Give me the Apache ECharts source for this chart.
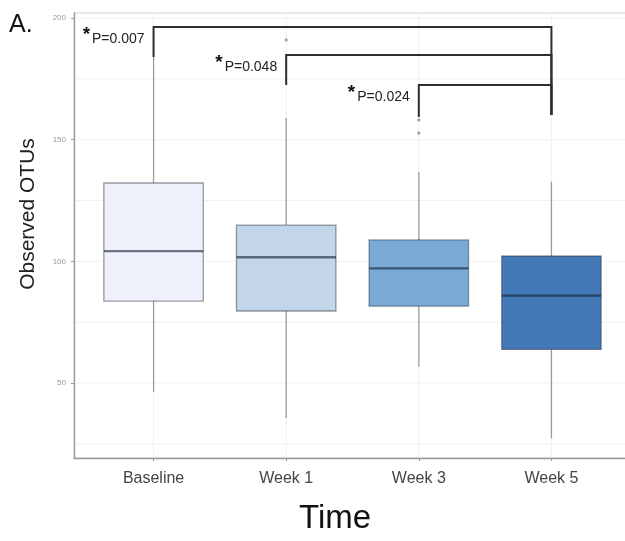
<!DOCTYPE html>
<html>
<head>
<meta charset="utf-8">
<title>Observed OTUs over time</title>
<script src="https://cdn.jsdelivr.net/npm/echarts@6/dist/echarts.min.js"></script>
<style>
  html, body { margin: 0; padding: 0; background: #ffffff; }
  #chart { width: 625px; height: 541px; }
</style>
</head>
<body>
<div id="chart"></div>
<script>
// Time points and box-plot statistics of observed OTUs
const categories = ['Baseline', 'Week 1', 'Week 3', 'Week 5'];
const lowerWhisker = [46.3, 35.6, 56.7, 27.3];
const q1 = [83.7, 79.6, 81.6, 63.8];
const medians = [104.2, 101.7, 97.1, 85.9];
const q3 = [132.2, 114.9, 108.8, 102.2];
const upperWhisker = [184, 158.9, 136.7, 132.7];
// outlying samples: [time point index, OTUs]
const outliers = [[1, 191], [2, 158.1], [2, 152.7]];

// axis ticks
const yTicks = [50, 100, 150, 200];
const yMinorGrid = [25, 75, 125, 175];

// pairwise comparisons against Week 5
const bracketFrom = [0, 1, 2];
const bracketTo = [3, 3, 3];
const bracketTop = [196.3, 184.8, 172.5];
const bracketFromEnd = [184, 172.5, 159.3];
const bracketToEnd = [160.1, 160.1, 160.1];
const pLabels = ['P=0.007', 'P=0.048', 'P=0.024'];

const boxColors = ['#eef0fb', '#c3d5e8', '#79aad5', '#4479b7'];
const FONT = '"Liberation Sans", Arial, Helvetica, sans-serif';

const chart = echarts.init(document.getElementById('chart'), null, { renderer: 'canvas' });

const boxData = categories.map((c, i) => [i, lowerWhisker[i], q1[i], medians[i], q3[i], upperWhisker[i]]);
const bracketData = bracketFrom.map((f, i) => [f, bracketTo[i], bracketTop[i], bracketFromEnd[i], bracketToEnd[i]]);

const option = {
  backgroundColor: '#ffffff',
  animation: false,
  grid: {
    left: 74, top: 13, width: 557, bottom: 83,
    outerBoundsMode: 'none', containLabel: false,
    show: true, borderColor: '#d0d0d0', borderWidth: 1, backgroundColor: 'transparent'
  },
  xAxis: {
    type: 'value', min: -0.6, max: 3.6,
    axisLine: { show: true, onZero: false, lineStyle: { color: '#9a9a9a', width: 1.3 } },
    axisTick: { show: true, length: 3, customValues: [0, 1, 2, 3], lineStyle: { color: '#9a9a9a' } },
    axisLabel: {
      customValues: [0, 1, 2, 3],
      formatter: v => categories[Math.round(v)],
      fontFamily: FONT, fontSize: 16, color: '#444', margin: 13
    },
    splitLine: { show: false }
  },
  yAxis: {
    type: 'value', min: 19.2, max: 202.05,
    axisLine: { show: true, onZero: false, lineStyle: { color: '#9a9a9a', width: 1.3 } },
    axisTick: { show: true, length: 3, customValues: yTicks, lineStyle: { color: '#9a9a9a' } },
    axisLabel: {
      customValues: yTicks,
      fontFamily: FONT, fontSize: 8, color: '#9a9a9a', margin: 8
    },
    splitLine: { show: false }
  },
  series: [
    {
      // horizontal grid lines
      type: 'custom', z: 0, silent: true,
      data: yTicks.concat(yMinorGrid).map(v => [0, v]),
      encode: { x: 0, y: 1 },
      renderItem: (params, api) => {
        const y = api.coord([0, api.value(1)])[1];
        const cs = params.coordSys;
        return {
          type: 'line',
          shape: { x1: cs.x, y1: y, x2: cs.x + cs.width, y2: y },
          style: { stroke: '#f0f0f0', lineWidth: 1 }
        };
      }
    },
    {
      // vertical grid lines at each time point
      type: 'custom', z: 0, silent: true,
      data: categories.map((c, i) => [i, 100]),
      encode: { x: 0, y: 1 },
      renderItem: (params, api) => {
        const x = api.coord([api.value(0), 100])[0];
        const cs = params.coordSys;
        return {
          type: 'line',
          shape: { x1: x, y1: cs.y, x2: x, y2: cs.y + cs.height },
          style: { stroke: '#f0f0f0', lineWidth: 1 }
        };
      }
    },
    {
      // boxes, whiskers and medians
      type: 'custom', z: 2, silent: true,
      data: boxData,
      encode: { x: 0, y: [1, 2, 3, 4, 5] },
      renderItem: (params, api) => {
        const x = api.value(0);
        const lo = api.coord([x, api.value(1)]);
        const b1 = api.coord([x, api.value(2)]);
        const md = api.coord([x, api.value(3)]);
        const b3 = api.coord([x, api.value(4)]);
        const hi = api.coord([x, api.value(5)]);
        const half = api.size([0.75, 0])[0] / 2;
        const cx = lo[0];
        return {
          type: 'group',
          children: [
            { type: 'line', shape: { x1: cx, y1: lo[1], x2: cx, y2: b1[1] },
              style: { stroke: '#9c9c9c', lineWidth: 1.3 } },
            { type: 'line', shape: { x1: cx, y1: b3[1], x2: cx, y2: hi[1] },
              style: { stroke: '#9c9c9c', lineWidth: 1.3 } },
            { type: 'rect', shape: { x: cx - half, y: b3[1], width: half * 2, height: b1[1] - b3[1] },
              style: { fill: boxColors[params.dataIndex], stroke: 'rgba(40,40,50,0.45)', lineWidth: 1.3 } },
            { type: 'line', shape: { x1: cx - half, y1: md[1], x2: cx + half, y2: md[1] },
              style: { stroke: 'rgba(20,30,50,0.6)', lineWidth: 2.4 } }
          ]
        };
      }
    },
    {
      type: 'scatter', z: 3, silent: true,
      data: outliers,
      symbol: 'circle', symbolSize: 3.2,
      itemStyle: { color: '#8a8a8a' }
    },
    {
      // significance brackets with p-values
      type: 'custom', z: 4, silent: true,
      data: bracketData,
      encode: { x: [0, 1], y: [2, 3, 4] },
      renderItem: (params, api) => {
        const a = api.coord([api.value(0), api.value(3)]);
        const b = api.coord([api.value(0), api.value(2)]);
        const c = api.coord([api.value(1), api.value(2)]);
        const d = api.coord([api.value(1), api.value(4)]);
        return {
          type: 'group',
          children: [
            { type: 'polyline', shape: { points: [a, b, c, d] },
              style: { stroke: '#2e2e2e', lineWidth: 2, fill: null } },
            { type: 'text', x: b[0] - 9, y: b[1] + 12,
              style: {
                text: '{s|*}{p|' + pLabels[params.dataIndex] + '}',
                align: 'right', verticalAlign: 'middle',
                rich: {
                  s: { fontSize: 19, fontWeight: 'bold', fontFamily: FONT, fill: '#111', padding: [0, 2, 9, 0] },
                  p: { fontSize: 14, fontFamily: FONT, fill: '#222' }
                }
              } }
          ]
        };
      }
    }
  ],
  graphic: [
    { type: 'text', x: 9, y: 25,
      style: { text: 'A.', font: '25px ' + FONT, fill: '#111', verticalAlign: 'middle' } },
    { type: 'text', x: 28, y: 214, rotation: Math.PI / 2,
      style: { text: 'Observed OTUs', font: '21px ' + FONT, fill: '#222', align: 'center', verticalAlign: 'middle' } },
    { type: 'text', x: 335, y: 519,
      style: { text: 'Time', font: '33px ' + FONT, fill: '#111', align: 'center', verticalAlign: 'middle' } }
  ]
};

chart.setOption(option);
</script>
</body>
</html>
